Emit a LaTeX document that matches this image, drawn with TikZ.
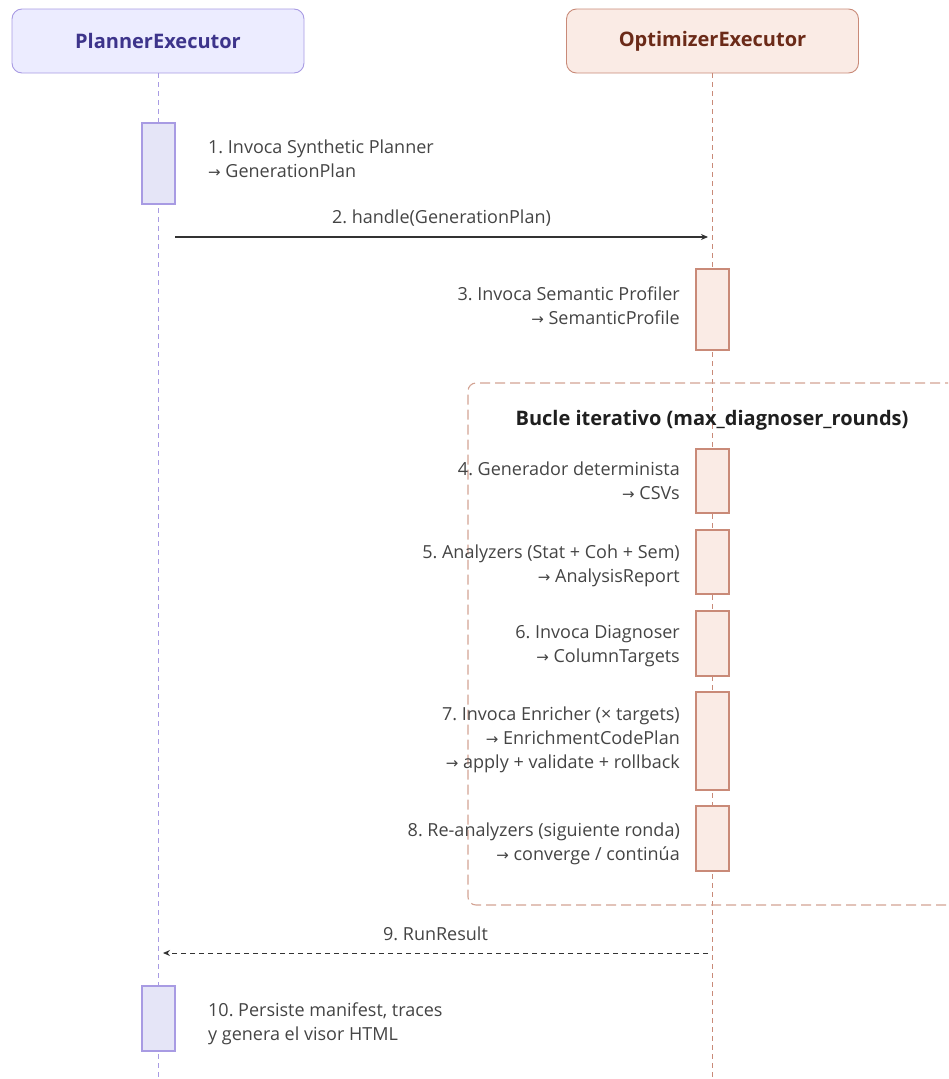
\documentclass[tikz,border=0pt]{standalone}
\usepackage{fontspec}
\setmainfont{Open Sans}
\newfontfamily\arrowfont{DejaVu Sans}
\newcommand{\toarrow}{{\arrowfont\fontsize{15}{24}\selectfont →}}
\usetikzlibrary{arrows.meta}
\definecolor{plFill}{HTML}{ECECFF}
\definecolor{plLine}{HTML}{A89BE3}
\definecolor{plText}{HTML}{3D348B}
\definecolor{plAct}{HTML}{E5E5F7}
\definecolor{opFill}{HTML}{FAEBE5}
\definecolor{opLine}{HTML}{C98A78}
\definecolor{opText}{HTML}{6B2A18}
\definecolor{loopLine}{HTML}{D3A393}
\definecolor{msgText}{HTML}{444444}
\definecolor{msgLine}{HTML}{333333}
\tikzset{
  actor/.style={draw, rounded corners=10pt, line width=0.9pt, minimum width=292pt, minimum height=64pt,
    font=\fontsize{20}{24}\selectfont\bfseries},
  lifeline/.style={line width=1pt, dash pattern=on 5pt off 4pt},
  actbox/.style={draw, line width=1.1pt, minimum width=33pt, inner sep=0pt},
  note/.style={text=msgText, font=\fontsize{18}{24}\selectfont, inner sep=0pt},
  msg/.style={draw=msgLine, line width=1.1pt, -{Stealth[length=7pt,width=6pt]}},
}
\begin{document}
\frenchspacing
\begin{tikzpicture}[x=1pt,y=-1pt]
\useasboundingbox (0,0) rectangle (948,1079);
\clip (0,0) rectangle (948,1079);

% participants
\node[actor, fill=plFill, draw=plLine, text=plText] (planner) at (158,41) {PlannerExecutor};
\node[actor, fill=opFill, draw=opLine, text=opText] (optimizer) at (712.5,41) {OptimizerExecutor};
\coordinate (plEnd) at (158,1079);
\coordinate (opEnd) at (712,1079);
\draw[lifeline, draw=plLine] (planner.south) -- (plEnd);
\draw[lifeline, draw=opLine] (optimizer.south -| opEnd) -- (opEnd);

% loop frame
\draw[loopLine, line width=1.1pt, dash pattern=on 10pt off 5pt, rounded corners=8pt]
  (970,383) -- (468,383) -- (468,905) -- (970,905);
\node[font=\fontsize{20}{24}\selectfont\bfseries, text=black!88] (looptitle) at (712,420) {Bucle iterativo (max\_diagnoser\_rounds)};

% activations on the planner
\node[actbox, fill=plAct, draw=plLine, minimum height=81pt] (pa1) at (158.5,163.5) {};
\node[actbox, fill=plAct, draw=plLine, minimum height=65pt] (pa2) at (158.5,1018.5) {};

% activations on the optimizer
\node[actbox, fill=opFill, draw=opLine, minimum height=81pt] (oa3) at (712.5,309.5) {};
\node[actbox, fill=opFill, draw=opLine, minimum height=64pt] (oa4) at (712.5,481) {};
\node[actbox, fill=opFill, draw=opLine, minimum height=64pt] (oa5) at (712.5,562) {};
\node[actbox, fill=opFill, draw=opLine, minimum height=65pt] (oa6) at (712.5,643.5) {};
\node[actbox, fill=opFill, draw=opLine, minimum height=98pt] (oa7) at (712.5,741) {};
\node[actbox, fill=opFill, draw=opLine, minimum height=65pt] (oa8) at (712.5,838.5) {};

% step notes
\node[note, anchor=north west, align=left] (n1) at (208,140) {1. Invoca Synthetic Planner\\\toarrow{} GenerationPlan};
\node[note, anchor=north east, align=right] (n3) at (680,287) {3. Invoca Semantic Profiler\\\toarrow{} SemanticProfile};
\node[note, anchor=north east, align=right] (n4) at (680,462) {4. Generador determinista\\\toarrow{} CSVs};
\node[note, anchor=north east, align=right] (n5) at (680,545) {5. Analyzers (Stat + Coh + Sem)\\\toarrow{} AnalysisReport};
\node[note, anchor=north east, align=right] (n6) at (680,625) {6. Invoca Diagnoser\\\toarrow{} ColumnTargets};
\node[note, anchor=north east, align=right] (n7) at (680,707) {7. Invoca Enricher (× targets)\\\toarrow{} EnrichmentCodePlan\\\toarrow{} apply + validate + rollback};
\node[note, anchor=north east, align=right] (n8) at (680,823) {8. Re-analyzers (siguiente ronda)\\\toarrow{} converge / continúa};
\node[note, anchor=north west, align=left] (n10) at (208,1003) {10. Persiste manifest, traces\\y genera el visor HTML};

% messages
\coordinate (m2s) at (175,237);
\coordinate (m2e) at (708,237);
\draw[msg] (m2s) -- node[note, above=10pt] (l2) {2. handle(GenerationPlan)} (m2e);
\coordinate (m9s) at (708,953);
\coordinate (m9e) at (163,953);
\draw[msg, line width=1pt, dash pattern=on 5pt off 4pt] (m9s) -- node[note, above=12pt] (l9) {9. RunResult} (m9e);
\end{tikzpicture}
\end{document}
